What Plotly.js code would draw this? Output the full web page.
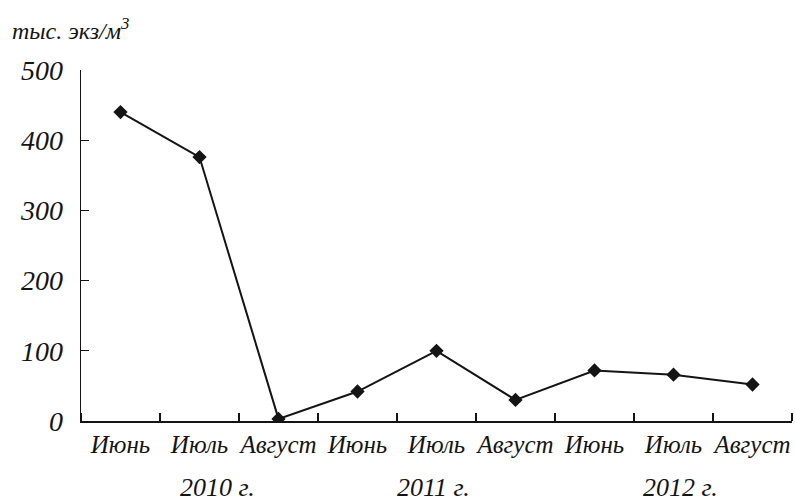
<!DOCTYPE html>
<html><head><meta charset="utf-8">
<script src="https://cdn.plot.ly/plotly-3.0.1.min.js"></script>
<style>body{margin:0;background:#fff}</style>
</head><body>
<div id="chart" style="width:795px;height:502px"></div>
<script>
const months = ["Июнь","Июль","Август","Июнь","Июль","Август","Июнь","Июль","Август"];
const values = [440, 376, 3, 42, 100, 30, 72, 66, 52];
const years = ["2010 г.", "2011 г.", "2012 г."];
const yTicks = [0, 100, 200, 300, 400, 500];
const unitLabel = "тыс. экз/м<sup>3</sup>";

const idx = months.map((m, i) => i);
const font = "Liberation Serif";
const ink = "#141414";

const trace = {
  x: idx, y: values, type: "scatter", mode: "lines+markers",
  line: {color: ink, width: 2},
  marker: {symbol: "diamond", size: 11, color: ink},
  hoverinfo: "skip"
};

const yearPos = [1.23, 3.96, 7.09];
const annotations = years.map((t, i) => ({
  text: "<i>" + t + "</i>", x: yearPos[i], xref: "x", y: -0.19, yref: "paper",
  yanchor: "middle", xanchor: "center", showarrow: false,
  font: {family: font, size: 26, color: ink}
}));
annotations.push({
  text: "<i>" + unitLabel + "</i>", x: -0.1, xref: "paper", xanchor: "left",
  y: 1.118, yref: "paper", yanchor: "middle", showarrow: false,
  font: {family: font, size: 24, color: ink}
});

const layout = {
  width: 795, height: 502,
  margin: {l: 81, r: 3, t: 70, b: 81},
  paper_bgcolor: "#fff", plot_bgcolor: "#fff",
  showlegend: false,
  font: {family: font, color: ink},
  xaxis: {
    range: [-0.5, 8.5], tickmode: "array", tickvals: idx,
    ticktext: months.map(m => "<i>" + m + "</i>"),
    ticks: "", showgrid: false, zeroline: false,
    showline: true, linecolor: ink, linewidth: 1.5,
    tickfont: {family: font, size: 25, color: ink},
    minor: {tick0: -0.5, dtick: 1, ticks: "inside", ticklen: 8, tickwidth: 1.2, tickcolor: ink, showgrid: false}
  },
  yaxis: {
    range: [0, 500], tickmode: "array", tickvals: yTicks,
    ticktext: yTicks.map(v => "<i>" + v + "</i>"),
    ticks: "inside", ticklen: 8, tickwidth: 1.2, tickcolor: ink,
    showgrid: false, zeroline: false,
    showline: true, linecolor: ink, linewidth: 1.5,
    ticklabelstandoff: 11,
    tickfont: {family: font, size: 28, color: ink}
  },
  annotations: annotations
};

Plotly.newPlot("chart", [trace], layout, {displayModeBar: false, staticPlot: true});
</script>
</body></html>
